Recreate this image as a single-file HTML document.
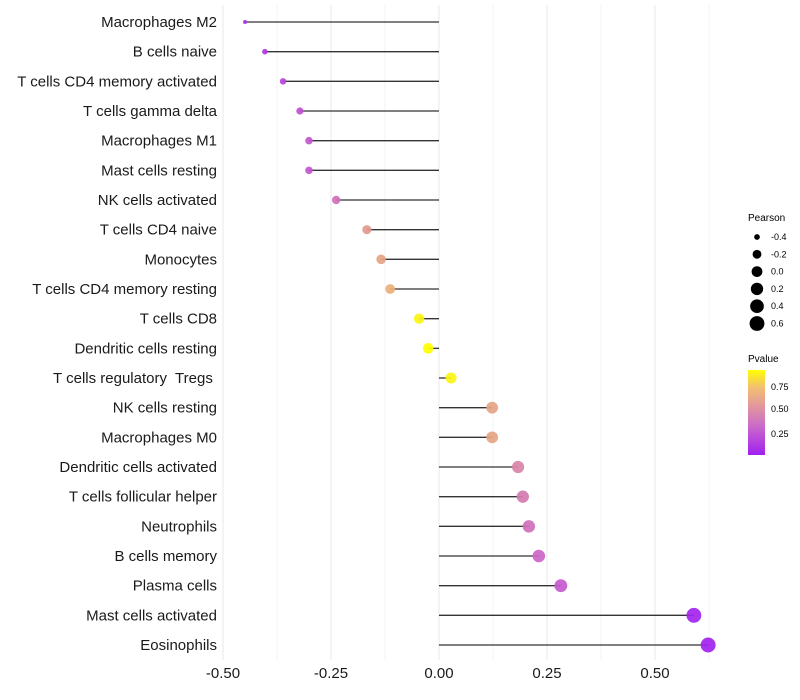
<!DOCTYPE html>
<html><head><meta charset="utf-8"><style>
body{margin:0;background:#fff;font-family:"Liberation Sans",sans-serif}
svg{display:block}
text{white-space:pre}
</style></head><body>
<svg id="chart" width="800" height="700">
<defs><linearGradient id="pg" x1="0" y1="1" x2="0" y2="0">
<stop offset="0" stop-color="#a020f0"/><stop offset="0.35" stop-color="#cc6cc8"/><stop offset="0.6" stop-color="#e49c98"/><stop offset="0.8" stop-color="#f2c070"/><stop offset="1" stop-color="#ffff00"/></linearGradient></defs>
<g id="grid"></g><g id="marks"></g><g id="axes"></g>
<g font-size="9">
<text x="748" y="221" font-size="10">Pearson</text>
<g id="sizeleg"></g>
</g>
<g font-size="9">
<text x="748" y="362" font-size="10">Pvalue</text>
<rect x="748" y="370" width="17" height="85" fill="url(#pg)"/>
<text x="771" y="390">0.75</text><text x="771" y="412">0.50</text><text x="771" y="437">0.25</text>
</g>
</svg>
<script>
const categories=["Macrophages M2","B cells naive","T cells CD4 memory activated","T cells gamma delta","Macrophages M1","Mast cells resting","NK cells activated","T cells CD4 naive","Monocytes","T cells CD4 memory resting","T cells CD8","Dendritic cells resting","T cells regulatory  Tregs ","NK cells resting","Macrophages M0","Dendritic cells activated","T cells follicular helper","Neutrophils","B cells memory","Plasma cells","Mast cells activated","Eosinophils"];
const pearson=[-0.449,-0.403,-0.361,-0.322,-0.301,-0.301,-0.238,-0.167,-0.134,-0.113,-0.046,-0.025,0.028,0.123,0.123,0.183,0.194,0.208,0.231,0.282,0.590,0.623];
const pvalue=[0.1,0.15,0.2,0.25,0.28,0.28,0.4,0.6,0.65,0.7,0.9,0.93,0.9,0.65,0.65,0.5,0.45,0.4,0.35,0.3,0.05,0.04];
const xTicks=[-0.5,-0.25,0,0.25,0.5];
const xTickLabels=["-0.50","-0.25","0.00","0.25","0.50"];
const sizeLegend=[-0.4,-0.2,0.0,0.2,0.4,0.6];
const sizeLegendLabels=["-0.4","-0.2","0.0","0.2","0.4","0.6"];
const NS="http://www.w3.org/2000/svg";
const x=v=>439+v*432;
const y=i=>22+i*(623/21);
const r=v=>1.5+6*Math.sqrt(Math.max(0,v+0.455)/1.08);
function lerp(a,b,t){return a+(b-a)*t}
const stops=[[0,[160,32,240]],[0.35,[204,100,200]],[0.6,[222,146,150]],[0.8,[238,186,110]],[1,[255,255,0]]];
function col(p){let t=(p-0.03)/0.9;t=Math.max(0,Math.min(1,t));for(let k=1;k<stops.length;k++){if(t<=stops[k][0]){const a=stops[k-1],b=stops[k],u=(t-a[0])/(b[0]-a[0]);return `rgb(${a[1].map((c,j)=>Math.round(lerp(c,b[1][j],u))).join(",")})`}}return "rgb(255,255,0)"}
function mk(tag,attrs,parent){const e=document.createElementNS(NS,tag);for(const k in attrs)e.setAttribute(k,attrs[k]);parent.appendChild(e);return e}
const grid=document.getElementById('grid'),marks=document.getElementById('marks'),axes=document.getElementById('axes');
for(let v=-0.5;v<=0.625;v+=0.125){const g=mk('line',{x1:x(v),x2:x(v),y1:5,y2:660,stroke:'#ebebeb','stroke-width':(Math.abs(v*4-Math.round(v*4))<1e-6)?1.1:0.6},grid);

}
categories.forEach((c,i)=>{
const l=mk('line',{x1:x(0),x2:x(pearson[i]),y1:y(i),y2:y(i),stroke:'#333','stroke-width':1.3},marks);


const d=mk('circle',{cx:x(pearson[i]),cy:y(i),r:r(pearson[i]),fill:col(pvalue[i]),'fill-opacity':0.92},marks);


const t=mk('text',{x:217,y:y(i)+5,'text-anchor':'end','font-size':15,fill:'#1a1a1a'},axes);t.textContent=c;


});
xTicks.forEach((v,i)=>{const t=mk('text',{x:x(v),y:678,'text-anchor':'middle','font-size':15,fill:'#1a1a1a'},axes);t.textContent=xTickLabels[i];

});
const sl=document.getElementById('sizeleg');
sizeLegend.forEach((v,i)=>{const cy=237+i*17.3;
const c=mk('circle',{cx:757,cy:cy,r:r(v),fill:'#000'},sl);


const t=mk('text',{x:771,y:cy+3},sl);t.textContent=sizeLegendLabels[i];

});
</script>
</body></html>
